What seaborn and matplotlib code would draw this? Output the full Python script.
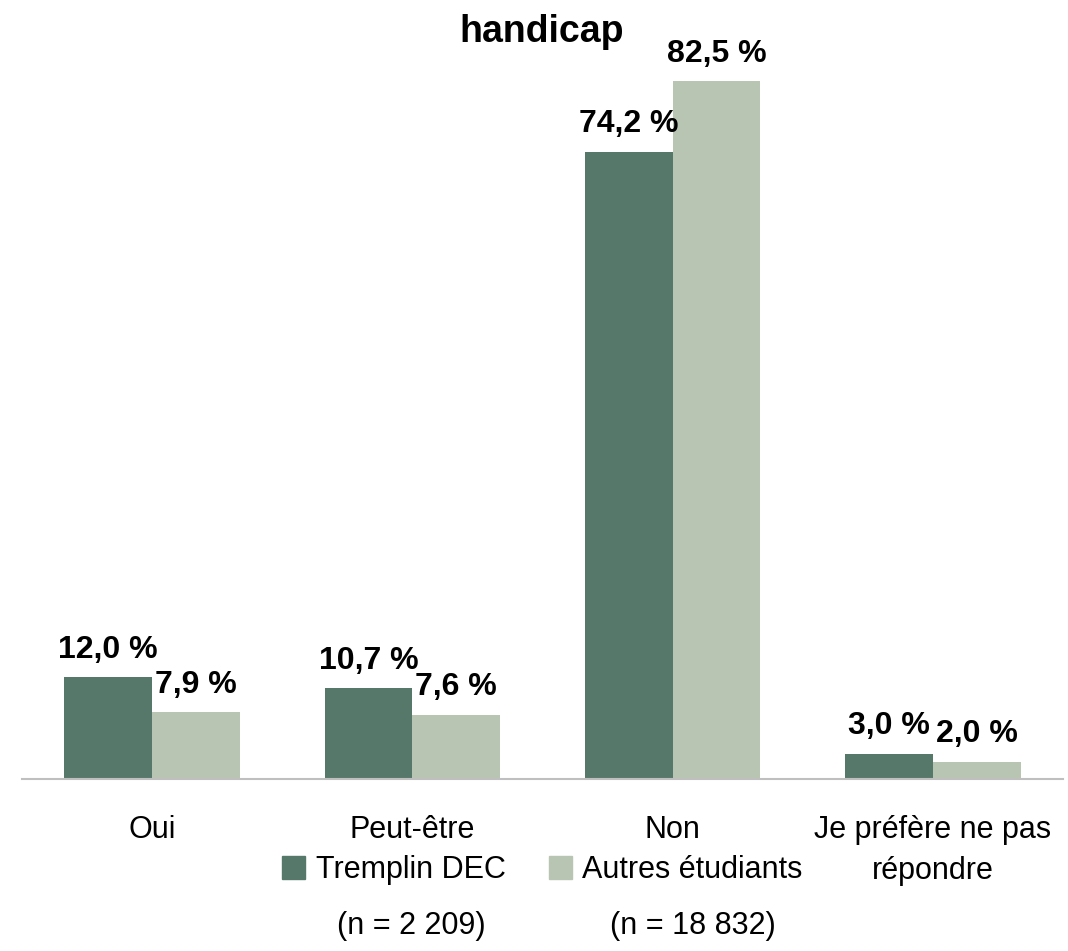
import pandas as pd
import matplotlib.pyplot as plt
import seaborn as sns

# Data
categories = ["Oui", "Peut-être", "Non", "Je préfère ne pas\nrépondre"]
tremplin = [12.0, 10.7, 74.2, 3.0]
autres = [7.9, 7.6, 82.5, 2.0]
groups = ["Tremplin DEC", "Autres étudiants"]
group_n = ["(n = 2 209)", "(n = 18 832)"]
colors = ["#56786A", "#B9C5B3"]

data = pd.DataFrame({
    "Réponse": categories * 2,
    "Pourcentage": tremplin + autres,
    "Groupe": [groups[0]] * 4 + [groups[1]] * 4,
})

sns.set_theme(style="white")
plt.rcParams["font.family"] = ["Liberation Sans", "DejaVu Sans"]
plt.rcParams["text.color"] = "black"

fig = plt.figure(figsize=(10.68, 9.51), dpi=100)
ax = fig.add_axes([0.0206, 0.181, 0.9747, 0.80])

sns.barplot(data=data, x="Réponse", y="Pourcentage", hue="Groupe",
            palette=colors, width=0.675, saturation=1, linewidth=0,
            ax=ax, legend=False)

for cont in ax.containers:
    ax.bar_label(cont, labels=[f"{v:.1f} %".replace(".", ",") for v in cont.datavalues],
                 padding=9, fontsize=23, fontweight="bold", color="black")

ax.set_ylim(0, 90)
ax.set_xlim(-0.5, 3.5)
ax.set_xlabel("")
ax.set_ylabel("")
ax.set_yticks([])
ax.tick_params(axis="x", length=0, labelsize=22, pad=26, colors="black")
for lab in ax.get_xticklabels():
    lab.set_linespacing(1.5)
for s in ["top", "right", "left"]:
    ax.spines[s].set_visible(False)
ax.spines["bottom"].set_color("#BFBFBF")
ax.spines["bottom"].set_linewidth(1.5)

fig.text(0.507, 1 - 42 / 951, "handicap", ha="center", va="baseline",
         fontsize=27, fontweight="bold", color="black")

handles = [plt.Rectangle((0, 0), 1, 1, color=c) for c in colors]
leg = fig.legend(handles, groups, loc="center", bbox_to_anchor=(0.508, 1 - 870 / 951), ncol=2,
                 frameon=False, fontsize=22, handlelength=0.75, handleheight=0.75,
                 handletextpad=0.35, columnspacing=1.4, labelcolor="black")

# second line of each legend entry, centred under its label
fig.canvas.draw()
inv = fig.transFigure.inverted()
for t, n in zip(leg.get_texts(), group_n):
    bb = t.get_window_extent()
    (x0, y0), (x1, y1) = inv.transform([[bb.x0, bb.y0], [bb.x1, bb.y1]])
    fig.text((x0 + x1) / 2, y0 - 0.043, n, ha="center", va="center",
             fontsize=22, color="black")

fig.savefig("out.png", dpi=100)
